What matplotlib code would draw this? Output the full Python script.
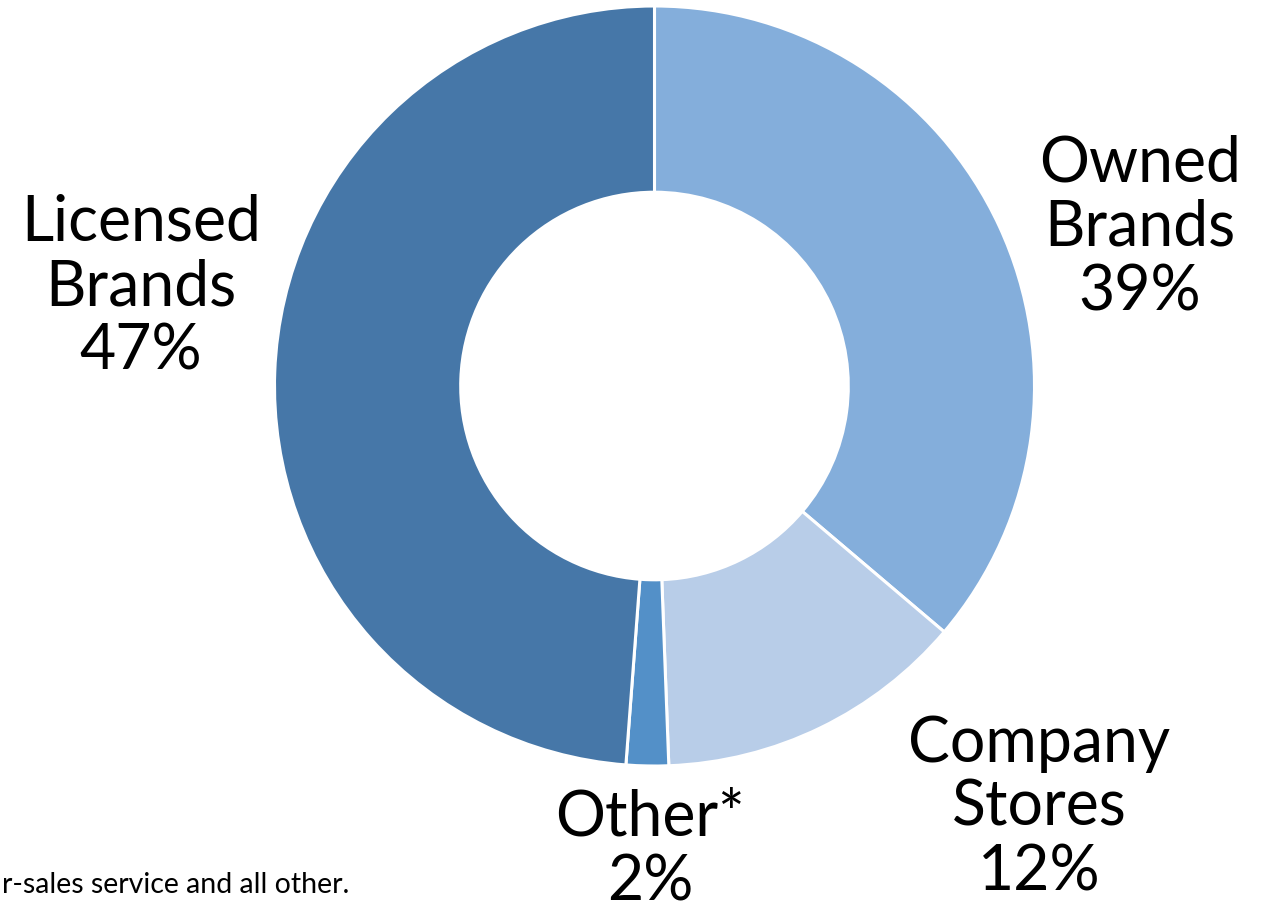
import matplotlib
matplotlib.use("Agg")
from matplotlib import pyplot as plt

# segment shares as drawn (clockwise from 12 o'clock)
segments = ["Owned Brands", "Company Stores", "Other*", "Licensed Brands"]
shares = [36.2, 13.2, 1.8, 48.8]
label_text = ["Owned\nBrands\n39%", "Company\nStores\n12%", "Other*\n2%", "Licensed\nBrands\n47%"]
colors = ["#84AEDB", "#B8CDE8", "#5390C8", "#4677A8"]
footnote = "r-sales service and all other."

plt.rcParams['font.family'] = ['Lato', 'DejaVu Sans']

W, H = 1271, 916
fig = plt.figure(figsize=(W / 100, H / 100), dpi=100)
ax = fig.add_axes([0, 0, 1, 1])

cx, cy, r = 654.5, H - 386, 380
ax.pie(shares, colors=colors, startangle=90, counterclock=False,
       center=(cx, cy), radius=r,
       wedgeprops=dict(width=r * 0.49, edgecolor="white", linewidth=2.2))

# label anchor points (pixel positions of the block centres)
label_pos = [(1140, 228), (1039, 808), (650, 850), (141, 287)]
for txt, (x, y) in zip(label_text, label_pos):
    ax.text(x, H - y, txt, ha="center", va="center", multialignment="center",
            fontsize=45, linespacing=1.13, color="black")

ax.text(2, H - 885, footnote, ha="left", va="center", fontsize=20.5, color="black")

ax.set_xlim(0, W)
ax.set_ylim(0, H)
ax.set_aspect("equal")
ax.axis("off")

fig.savefig("out.png", dpi=100)
